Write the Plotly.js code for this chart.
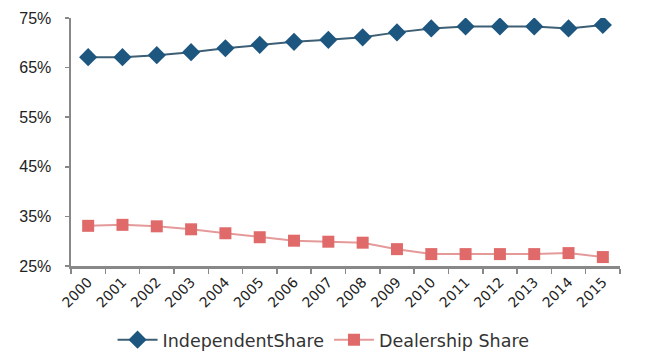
<!DOCTYPE html>
<html>
<head>
<meta charset="utf-8">
<script src="https://cdn.plot.ly/plotly-3.0.1.min.js"></script>
<style>html,body{margin:0;padding:0;background:#fff;}#chart{width:672px;height:356px;}</style>
</head>
<body>
<div id="chart"></div>
<script>
var years = ['2000','2001','2002','2003','2004','2005','2006','2007','2008','2009','2010','2011','2012','2013','2014','2015'];
var independentShare = [67.1, 67.1, 67.5, 68.1, 68.9, 69.6, 70.2, 70.6, 71.1, 72.1, 72.9, 73.3, 73.3, 73.3, 72.9, 73.6];
var dealershipShare = [33.1, 33.3, 33.0, 32.4, 31.6, 30.8, 30.1, 29.9, 29.7, 28.4, 27.4, 27.4, 27.4, 27.4, 27.6, 26.8];
var yTicks = [25, 35, 45, 55, 65, 75];
var yTickLabels = ['25%', '35%', '45%', '55%', '65%', '75%'];

var traces = [
  {
    x: years, y: independentShare, name: 'IndependentShare', type: 'scatter', mode: 'lines+markers',
    line: {color: '#3d5f75', width: 2},
    marker: {symbol: 'diamond', size: 14, color: '#1d5780', line: {width: 0}}
  },
  {
    x: years, y: dealershipShare, name: 'Dealership Share', type: 'scatter', mode: 'lines+markers',
    line: {color: '#e59a9a', width: 2},
    marker: {symbol: 'square', size: 12, color: '#e06a6a', line: {width: 0}}
  }
];

var layout = {
  width: 672, height: 356,
  margin: {l: 71, r: 52, t: 18, b: 90, autoexpand: false},
  paper_bgcolor: '#fff', plot_bgcolor: '#fff',
  showlegend: true,
  legend: {orientation: 'h', x: 0.46, xanchor: 'center', y: -0.225, yanchor: 'top',
           font: {family: '"DejaVu Sans", sans-serif', size: 17.5, color: '#333'},
           itemwidth: 40, tracegroupgap: 0},
  xaxis: {
    type: 'category', tickangle: -45, tickson: 'boundaries', ticks: 'outside', ticklen: 5,
    tickcolor: '#888', tickwidth: 1.5, automargin: false,
    showline: true, linecolor: '#888', linewidth: 2.5, showgrid: false, zeroline: false,
    tickfont: {family: '"DejaVu Sans", sans-serif', size: 14, color: '#222'},
    range: [-0.5, 15.5]
  },
  yaxis: {
    range: [25, 75], tickvals: yTicks, ticktext: yTickLabels, ticks: 'outside', ticklen: 4,
    tickcolor: '#888', tickwidth: 1.5, automargin: false, ticklabelstandoff: 10,
    showline: true, linecolor: '#888', linewidth: 2.5, showgrid: false, zeroline: false,
    tickfont: {family: '"Liberation Sans", Arial, sans-serif', size: 16, color: '#222'}
  }
};

Plotly.newPlot('chart', traces, layout, {displayModeBar: false, staticPlot: true});
</script>
</body>
</html>
